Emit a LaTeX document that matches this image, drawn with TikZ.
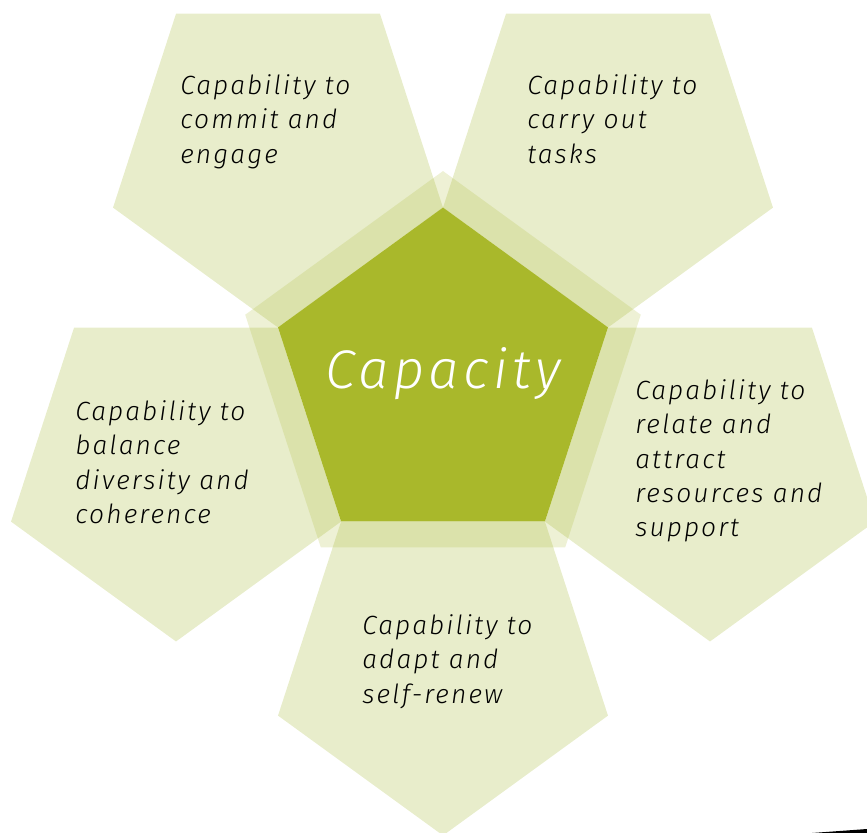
\documentclass[tikz,border=0pt]{standalone}
\usepackage{fontspec}
\usetikzlibrary{shapes.geometric}
\newfontfamily\handfont{Fira Sans Light Italic}[LetterSpace=8]
\definecolor{petalgreen}{HTML}{E8EDCB}
\definecolor{coregreen}{HTML}{A9B82B}

\tikzset{%
  every node/.style={
    inner sep=0pt
  },
  petal/.style={regular polygon, regular polygon sides=5,
    shape border rotate=180, minimum size=6.94cm, fill=petalgreen},
  halo/.style={regular polygon, regular polygon sides=5,
    minimum size=8.32cm, fill=coregreen, fill opacity=0.2},
  core/.style={regular polygon, regular polygon sides=5,
    minimum size=6.94cm, fill=coregreen},
  caption/.style={anchor=north west, align=left,
    font=\handfont\fontsize{15}{19.6}\selectfont}
}

\begin{document}
\begin{tikzpicture}[x=0.02cm, y=0.02cm]
      \useasboundingbox (0,0) rectangle (867,-833);
      \clip (0,0) rectangle (867,-833);
      \node[petal] (1) at (278,-154) {};
      \node[petal] (2) at (608,-154) {};
      \node[petal] (3) at (176,-468) {};
      \node[petal] (4) at (710,-468) {};
      \node[petal] (5) at (443,-662) {};
      \node[halo] (6) at (443,-379) {};
      \node[core] (0) at (443,-381) {};
      \node[caption] (a) at (180,-74) {Capability to\\commit and\\engage};
      \node[caption] (b) at (527,-74) {Capability to\\carry out\\tasks};
      \node[caption] (c) at (75,-400) {Capability to\\balance\\diversity and\\coherence};
      \node[caption] (d) at (635,-379) {Capability to\\relate and\\attract\\resources and\\support};
      \node[caption] (e) at (362,-614) {Capability to\\adapt and\\self-renew};
      \node[anchor=base, text=white, font=\handfont\fontsize{31}{36}\selectfont] (f) at (443,-388) {Capacity};
      \fill (812,-833) .. controls (840,-831) .. (867,-829) -- (867,-833) -- cycle;
    \end{tikzpicture}
\end{document}
